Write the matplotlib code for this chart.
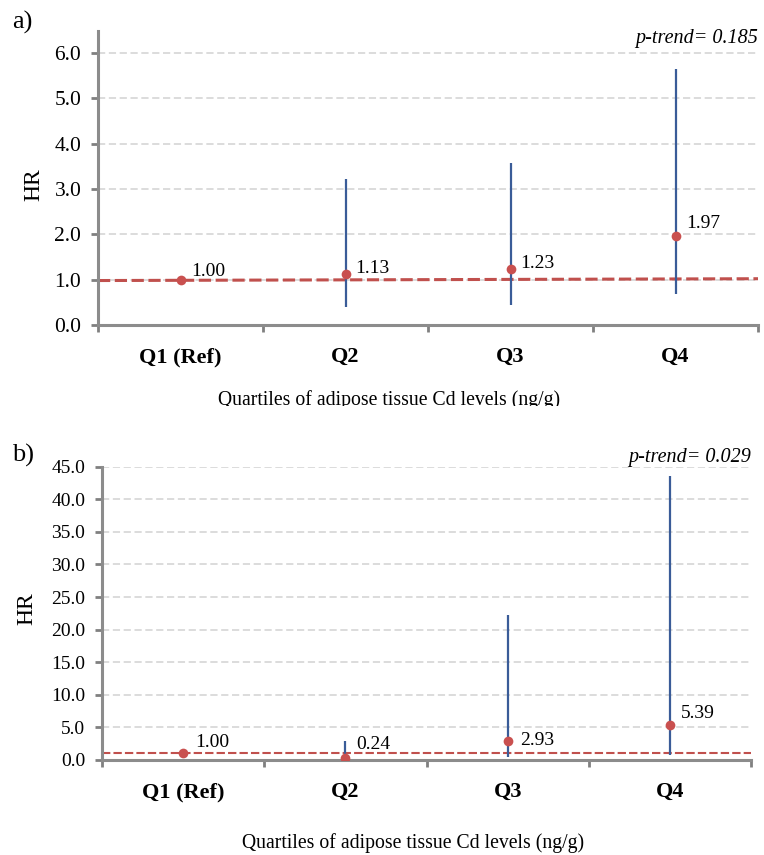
import numpy as np
import matplotlib
matplotlib.use("Agg")
import matplotlib.pyplot as plt
from matplotlib.transforms import Bbox

plt.rcParams['font.family'] = ['Liberation Serif', 'DejaVu Serif']

# Data
quartiles = ['Q1 (Ref)', 'Q2', 'Q3', 'Q4']
hr_a = [1.00, 1.13, 1.23, 1.97]
lo_a = [1.00, 0.40, 0.44, 0.68]
hi_a = [1.00, 3.22, 3.56, 5.65]
ref_a = [0.98, 1.02]
hr_b = [1.00, 0.24, 2.93, 5.39]
lo_b = [1.00, 0.02, 0.40, 0.77]
hi_b = [1.00, 2.97, 22.2, 43.6]
ref_b = [1.05, 1.05]
labels_a = ['1.00', '1.13', '1.23', '1.97']
labels_b = ['1.00', '0.24', '2.93', '5.39']
ptrend_a = 'p-trend= 0.185'
ptrend_b = 'p-trend= 0.029'
xlabel = 'Quartiles of adipose tissue Cd levels (ng/g)'

W, H = 764, 855
fig = plt.figure(figsize=(W / 100, H / 100), dpi=100)

def px_axes(left, top, right, bottom):
    return fig.add_axes([left / W, 1 - bottom / H, (right - left) / W, (bottom - top) / H])

def panel(ax, hr, lo, hi, ref, labels, offs, ymax, ystep, ylim_top, ref_lw, tick_fs):
    x = np.arange(1, len(hr) + 1)
    ax.set_xlim(0.5, len(hr) + 0.5)
    ax.set_ylim(0, ylim_top)
    yt = np.arange(0, ymax + ystep / 2, ystep)
    ax.set_yticks(yt)
    ax.set_yticklabels(['%.1f' % v for v in yt], fontsize=tick_fs)
    ax.set_xticks(np.arange(0.5, len(hr) + 1, 1.0))
    ax.set_xticklabels([])
    ax.set_xticks(x, minor=True)
    ax.set_xticklabels(quartiles, minor=True, fontsize=16, fontweight='bold')
    ax.tick_params(axis='x', which='minor', length=0, pad=16)
    ax.tick_params(axis='x', which='major', length=5, width=2, color='#808080', direction='out')
    ax.tick_params(axis='y', length=5, width=2, color='#808080', direction='out', pad=7)
    for s in ['top', 'right']:
        ax.spines[s].set_visible(False)
    for s in ['left', 'bottom']:
        ax.spines[s].set_color('#8c8c8c')
        ax.spines[s].set_linewidth(2.2)
    ax.grid(axis='y', color='#d9d9d9', linestyle=(0, (4, 2)), linewidth=1.3)
    ax.set_axisbelow(True)
    ax.vlines(x, lo, hi, color='#3a5c98', linewidth=1.6, zorder=3)
    ax.plot([0.5, len(hr) + 0.5], ref, color='#c0504d', linestyle=(0, (4, 1.5)), linewidth=ref_lw, zorder=2)
    ax.plot(x, hr, 'o', color='#c9504f', markersize=7, markeredgewidth=0, zorder=4)
    for xi, yi, lab, off in zip(x, hr, labels, offs):
        ax.annotate(lab, (xi, yi), xytext=off, textcoords='offset points',
                    fontsize=14, ha='left', va='center', zorder=5)
    ax.set_ylabel('HR', fontsize=17)

# panel a
ax1 = px_axes(98, 31, 758, 325)
panel(ax1, hr_a, lo_a, hi_a, ref_a, labels_a,
      [(8, 6), (7, 4), (7, 4), (8, 9)], 6.0, 1.0, 6.48, 2.2, 15.5)
ax1.text(1.0, 6.1, ptrend_a, transform=ax1.get_yaxis_transform(), ha='right', va='bottom',
         fontsize=14.5, style='italic')
ax1.yaxis.set_label_coords((44 - 98) / 660, (325 - 185) / 294)

# panel b
ax2 = px_axes(102, 466.7, 751, 760)
panel(ax2, hr_b, lo_b, hi_b, ref_b, labels_b,
      [(9, 8), (8, 10), (9, 0), (8, 8)], 45.0, 5.0, 45.0, 1.5, 14)
ax2.text(1.0, 1.0, ptrend_b, transform=ax2.transAxes, ha='right', va='bottom',
         fontsize=14.5, style='italic')
ax2.yaxis.set_label_coords((37 - 102) / 649, (760 - 609) / 293.3)

fig.text(12 / W, 1 - 22 / H, 'a)', fontsize=19, va='center', ha='left')
fig.text(12 / W, 1 - 455 / H, 'b)', fontsize=19, va='center', ha='left')

# panel a x label is cut off at the bottom of the chart
t = fig.text(389 / W, 1 - 400 / H, xlabel, fontsize=14.2, ha='center', va='center')
t.set_clip_box(Bbox.from_extents(0, H - 406, W, H))
t.set_clip_on(True)
fig.text(413 / W, 1 - 843 / H, xlabel, fontsize=14.2, ha='center', va='center')

fig.savefig('out.png', dpi=100, facecolor='white')
